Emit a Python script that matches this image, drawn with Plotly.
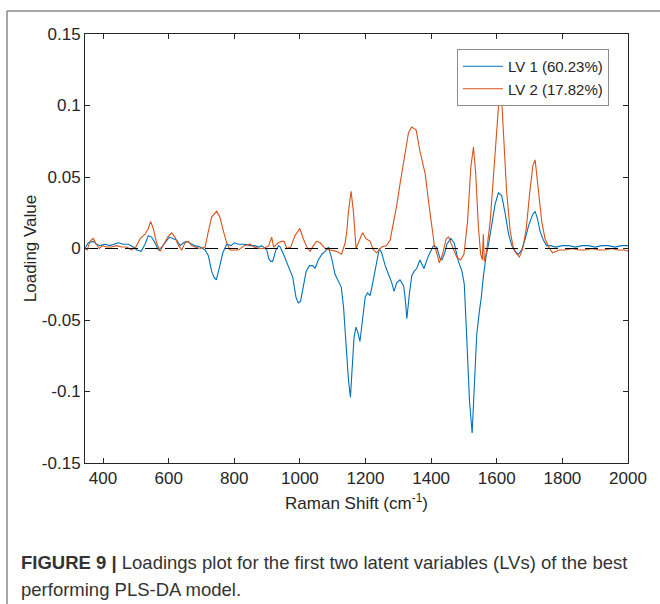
import plotly.graph_objects as go

# ---------------- data ----------------
lv1_x = [345, 355, 370, 380, 390, 406, 421, 432, 447, 461, 477, 492, 503, 516, 528, 538, 548, 558,
         569, 579, 589, 602, 612, 624, 635, 645, 655, 665, 680, 696, 711, 721, 731, 738, 745, 755,
         765, 777, 790, 800, 813, 833, 848, 863, 875, 884, 899, 905, 911, 917, 922, 927, 935, 940,
         950, 965, 978, 988, 995, 1002, 1011, 1019, 1029, 1039, 1046, 1056, 1067, 1077, 1087, 1097,
         1107, 1117, 1126, 1133, 1141, 1148, 1154, 1160, 1165, 1171, 1177, 1183, 1191, 1199, 1206,
         1214, 1222, 1232, 1242, 1249, 1260, 1270, 1280, 1287, 1295, 1305, 1316, 1321, 1326, 1334,
         1341, 1348, 1356, 1366, 1378, 1392, 1407, 1417, 1427, 1433, 1443, 1448, 1460, 1470, 1483,
         1494, 1501, 1509, 1517, 1525, 1533, 1539, 1547, 1553, 1559, 1567, 1575, 1585, 1595, 1605,
         1615, 1626, 1636, 1646, 1656, 1666, 1676, 1687, 1697, 1710, 1717, 1725, 1732, 1742, 1752,
         1763, 1780, 1800, 1820, 1840, 1860, 1880, 1900, 1920, 1940, 1960, 1980, 2000]
lv1_y = [0.000, 0.004, 0.005, 0.003, 0.002, 0.003, 0.002, 0.003, 0.004, 0.003, 0.003, 0.001, -0.001,
         -0.002, 0.003, 0.009, 0.008, 0.004, -0.001, 0.001, 0.004, 0.008, 0.007, 0.006, 0.002, 0.004,
         0.005, 0.004, 0.002, 0.001, -0.001, -0.005, -0.016, -0.020, -0.022, -0.013, -0.003, 0.003,
         0.002, 0.004, 0.003, 0.003, 0.002, 0.002, 0.001, 0.002, -0.001, -0.007, -0.009, -0.009,
         -0.004, -0.001, 0.002, 0.001, -0.004, -0.012, -0.020, -0.034, -0.038, -0.037, -0.025, -0.016,
         -0.012, -0.012, -0.014, -0.008, -0.004, -0.002, 0.001, -0.007, -0.018, -0.023, -0.027, -0.041,
         -0.067, -0.092, -0.104, -0.083, -0.062, -0.055, -0.059, -0.065, -0.048, -0.034, -0.031, -0.033,
         -0.024, -0.011, 0.000, -0.003, -0.012, -0.018, -0.024, -0.030, -0.024, -0.022, -0.026, -0.035,
         -0.049, -0.031, -0.019, -0.016, -0.014, -0.008, -0.014, -0.005, 0.002, 0.001, -0.007, -0.008,
         -0.002, 0.003, 0.007, 0.004, -0.009, -0.016, -0.025, -0.065, -0.107, -0.129, -0.092, -0.060,
         -0.044, -0.034, -0.020, -0.006, 0.003, 0.017, 0.031, 0.039, 0.037, 0.024, 0.010, 0.002,
         -0.002, -0.004, -0.001, 0.007, 0.016, 0.024, 0.026, 0.020, 0.012, 0.006, 0.002, 0.002, 0.001,
         0.002, 0.002, 0.001, 0.002, 0.002, 0.001, 0.002, 0.002, 0.001, 0.002, 0.002]

lv2_x = [345, 352, 360, 370, 379, 389, 398, 410, 425, 442, 456, 472, 487, 500, 513, 528, 538, 545,
         553, 563, 574, 584, 597, 609, 619, 630, 640, 650, 660, 670, 680, 696, 711, 721, 731, 746,
         756, 767, 777, 787, 800, 813, 830, 848, 860, 875, 890, 905, 914, 920, 934, 945, 952, 960,
         972, 985, 1000, 1010, 1021, 1031, 1041, 1051, 1062, 1077, 1092, 1112, 1127, 1138, 1143,
         1148, 1156, 1163, 1168, 1171, 1178, 1191, 1201, 1214, 1224, 1234, 1249, 1264, 1275, 1285,
         1295, 1305, 1316, 1324, 1331, 1341, 1354, 1366, 1382, 1392, 1402, 1410, 1417, 1425, 1435,
         1446, 1453, 1463, 1478, 1490, 1500, 1511, 1521, 1529, 1536, 1544, 1551, 1556, 1559, 1562,
         1569, 1580, 1590, 1600, 1608, 1615, 1622, 1630, 1641, 1651, 1661, 1669, 1679, 1690, 1700,
         1710, 1717, 1727, 1737, 1747, 1758, 1770, 1790, 1810, 1830, 1850, 1870, 1890, 1910, 1930,
         1950, 1970, 1990, 2000]
lv2_y = [0.000, -0.001, 0.005, 0.007, 0.003, 0.000, 0.002, 0.001, 0.001, 0.002, 0.001, 0.001, -0.001,
         0.001, 0.007, 0.010, 0.014, 0.019, 0.014, 0.004, -0.002, 0.002, 0.008, 0.011, 0.008, 0.002,
         -0.001, 0.004, 0.005, 0.002, 0.001, 0.000, 0.001, 0.012, 0.022, 0.026, 0.022, 0.012, 0.004,
         -0.001, -0.001, -0.001, 0.002, 0.003, 0.001, 0.000, 0.000, 0.002, 0.008, 0.001, 0.004, 0.005,
         0.005, 0.000, 0.001, 0.009, 0.014, 0.007, 0.001, -0.002, 0.002, 0.005, 0.004, 0.000, -0.001,
         -0.002, -0.004, 0.004, 0.012, 0.026, 0.040, 0.026, 0.010, 0.000, 0.004, 0.011, 0.007, 0.005,
         -0.001, -0.003, 0.001, 0.002, 0.006, 0.017, 0.030, 0.045, 0.060, 0.073, 0.081, 0.085, 0.083,
         0.068, 0.052, 0.033, 0.017, 0.002, -0.003, -0.010, -0.004, 0.007, 0.008, 0.002, -0.006, -0.008,
         -0.004, 0.019, 0.057, 0.071, 0.052, 0.015, -0.004, -0.008, 0.010, -0.009, -0.002, 0.019, 0.052,
         0.087, 0.108, 0.104, 0.071, 0.040, 0.012, 0.000, -0.004, -0.006, 0.000, 0.014, 0.038, 0.058,
         0.062, 0.042, 0.019, 0.007, 0.001, -0.003, -0.001, -0.001, 0.000, -0.001, -0.001, 0.000,
         -0.001, -0.001, 0.000, -0.001, -0.001, -0.002]

series_names = ["LV 1 (60.23%)", "LV 2 (17.82%)"]
x_ticks = [400, 600, 800, 1000, 1200, 1400, 1600, 1800, 2000]
y_ticks = [-0.15, -0.1, -0.05, 0, 0.05, 0.1, 0.15]
y_tick_text = ["-0.15", "-0.1", "-0.05", "0", "0.05", "0.1", "0.15"]
x_range = [345, 2000]
caption_line1 = "<b>FIGURE 9 | </b>Loadings plot for the first two latent variables (LVs) of the best"
caption_line2 = "performing PLS-DA model."

# ---------------- figure ----------------
W, H = 660, 604
ML, MR, MT, MB = 85, 32, 34, 141
pw, ph = W - ML - MR, H - MT - MB

def px_x(p):
    return (p - ML) / pw

def px_y(p):
    return 1 - (p - MT) / ph

FONT = "Liberation Sans, Arial, sans-serif"
AX = "#262626"

fig = go.Figure()
fig.add_trace(go.Scatter(x=lv1_x, y=lv1_y, mode="lines", name=series_names[0],
                         line=dict(color="#0072BD", width=1.1)))
fig.add_trace(go.Scatter(x=lv2_x, y=lv2_y, mode="lines", name=series_names[1],
                         line=dict(color="#D95319", width=1.1)))
fig.add_trace(go.Scatter(x=x_range, y=[0, 0], mode="lines", showlegend=False, hoverinfo="skip",
                         line=dict(color="#000000", width=1, dash="13px,7px")))

axis_common = dict(showline=True, linecolor=AX, linewidth=1, mirror="ticks",
                   ticks="inside", ticklen=5, tickcolor=AX, showgrid=False, zeroline=False,
                   tickfont=dict(family=FONT, size=17, color=AX))

fig.update_xaxes(range=x_range, tickvals=x_ticks, **axis_common,
                 title=dict(text="Raman Shift (cm<sup>-1</sup>)", font=dict(family=FONT, size=17, color=AX),
                            standoff=9))
fig.update_yaxes(range=[-0.15, 0.15], tickvals=y_ticks, ticktext=y_tick_text, **axis_common,
                 title=dict(text="Loading Value", font=dict(family=FONT, size=17, color=AX), standoff=0))

fig.update_layout(
    width=W, height=H,
    margin=dict(l=ML, r=MR, t=MT, b=MB),
    paper_bgcolor="white", plot_bgcolor="white",
    showlegend=True,
    legend=dict(x=px_x(457), y=px_y(49), xanchor="left", yanchor="top",
                bgcolor="white", bordercolor="#8c8c8c", borderwidth=1,
                font=dict(family=FONT, size=15, color=AX), tracegroupgap=0,
                itemwidth=40),
    font=dict(family=FONT),
    shapes=[
        dict(type="line", xref="paper", yref="paper", x0=px_x(7), x1=px_x(7),
             y0=px_y(11), y1=px_y(620), line=dict(color="#8a8a8a", width=1.5)),
        dict(type="line", xref="paper", yref="paper", x0=px_x(7), x1=px_x(680),
             y0=px_y(11), y1=px_y(11), line=dict(color="#8a8a8a", width=1.5)),
    ],
    annotations=[
        dict(text=caption_line1, xref="paper", yref="paper", x=px_x(19), y=px_y(562),
             xanchor="left", yanchor="middle", showarrow=False,
             font=dict(family=FONT, size=18.5, color="#333333")),
        dict(text=caption_line2, xref="paper", yref="paper", x=px_x(19), y=px_y(589),
             xanchor="left", yanchor="middle", showarrow=False,
             font=dict(family=FONT, size=18.5, color="#333333")),
    ],
)

fig.write_html("out.html")
